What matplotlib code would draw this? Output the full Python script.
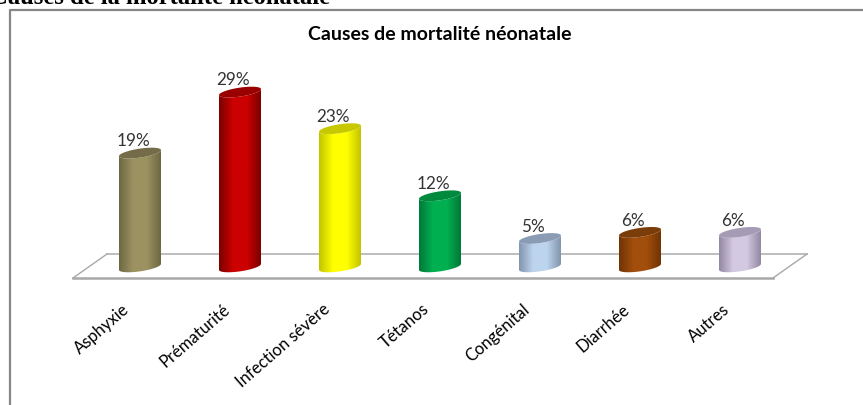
import numpy as np
import matplotlib
matplotlib.use("Agg")
import matplotlib.pyplot as plt
from matplotlib.colors import LinearSegmentedColormap
from matplotlib.patches import Polygon
from matplotlib.transforms import ScaledTranslation

categories = ["Asphyxie", "Prématurité", "Infection sévère", "Tétanos", "Congénital", "Diarrhée", "Autres"]
values = [19, 29, 23, 12, 5, 6, 6]
labels = ["19%", "29%", "23%", "12%", "5%", "6%", "6%"]
side_colors = ["#9c9261", "#cc0000", "#ffff00", "#00b050", "#bdd4ee", "#a24e0c", "#d3c9e2"]
edge_colors = ["#6e6843", "#7c0000", "#c4c400", "#007a3a", "#8296ac", "#713404", "#9488a4"]
top_colors = ["#746c48", "#990000", "#c8c800", "#008a3e", "#8a9cb4", "#7a3c08", "#a59bb4"]

W, H = 863, 406
fig = plt.figure(figsize=(W / 100, H / 100), dpi=100)

# axes placed so that one category is 100 px and 1% is about 6.1 px, zero sits at y=270 px
px_per_unit = 6.1
base_px = 270
bottom_px = 290
top_px = 60
ylim = ((base_px - bottom_px) / px_per_unit, (base_px - top_px) / px_per_unit)
ax = fig.add_axes([90 / W, 1 - bottom_px / H, 700 / W, (bottom_px - top_px) / H])
ax.axis("off")
ax.patch.set_visible(False)

# frame and cut off heading belong to the page
fig.add_artist(plt.Line2D([9.5 / W, 9.5 / W, 1], [0, 1 - 10.5 / H, 1 - 10.5 / H], color="#868686", lw=1.6))
fig.text(-10 / W, 1 - 4 / H, "Causes de la mortalité néonatale", family="Liberation Serif",
         weight="bold", fontsize=17.7, va="baseline", ha="left", color="black")
fig.text(440 / W, 1 - 35 / H, "Causes de mortalité néonatale", family="Lato",
         weight="bold", fontsize=14, va="center", ha="center", color="black")

# floor of the 3d plot
front = -9 / px_per_unit
back = 15 / px_per_unit
ax.plot([-0.67, 6.33], [front, front], color="#a8a8a8", lw=1.8, clip_on=False, zorder=1)
ax.plot([-0.33, 6.67], [back, back], color="#b8b8b8", lw=1.3, clip_on=False, zorder=1)
ax.plot([-0.67, -0.33], [front, back], color="#a8a8a8", lw=1, clip_on=False, zorder=1)
ax.plot([6.33, 6.67], [front, back], color="#a8a8a8", lw=1, clip_on=False, zorder=1)

half = 0.21
ry = 4.5 / px_per_unit
tilt = 3.0 / px_per_unit
t = np.linspace(0, 2 * np.pi, 80)


def ring(xc, yc, ts):
    return xc + half * np.cos(ts), yc + ry * np.sin(ts) + tilt * np.cos(ts)


for i, v in enumerate(values):
    # body: lower half of the bottom ellipse, then lower half of the top ellipse reversed
    low = np.linspace(np.pi, 2 * np.pi, 40)
    bx, by = ring(i, 0.35, low)
    tx, ty = ring(i, v, low[::-1])
    body = Polygon(np.column_stack([np.r_[bx, tx], np.r_[by, ty]]), closed=True,
                   fc="none", ec="none", zorder=3, clip_on=False)
    ax.add_patch(body)
    cmap = LinearSegmentedColormap.from_list(f"c{i}", [edge_colors[i], side_colors[i], side_colors[i], edge_colors[i]])
    im = ax.imshow(np.linspace(0, 1, 64)[None, :], cmap=cmap, aspect="auto", zorder=3,
                   extent=[i - half, i + half, -2, v + 1], clip_on=True)
    im.set_clip_path(body)
    tox, toy = ring(i, v, t)
    ax.fill(tox, toy, color=top_colors[i], zorder=4, clip_on=False, lw=0)
    ax.text(i - 0.07, v + ry + 0.05, labels[i], ha="center", va="bottom", family="Lato",
            fontsize=12.3, color="#333333", zorder=5)

ax.set_xlim(-0.5, 6.5)
ax.set_ylim(*ylim)

# rotated category names
shift = ScaledTranslation(-18 / 100, -31 / 100, fig.dpi_scale_trans)
for i, name in enumerate(categories):
    ax.text(i, 0, name, rotation=41, rotation_mode="anchor", ha="right", va="top",
            family="Lato", fontsize=12, color="black", clip_on=False,
            transform=ax.transData + shift)

fig.savefig("out.png", dpi=100)
